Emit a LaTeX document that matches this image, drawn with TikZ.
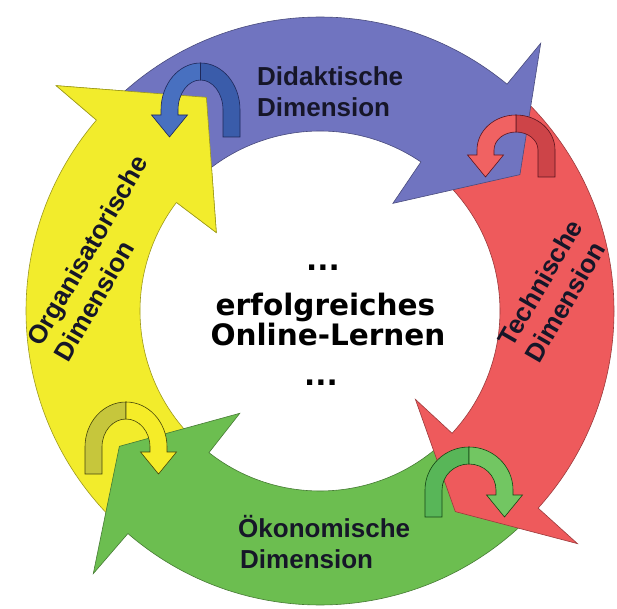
\documentclass[tikz,border=0pt]{standalone}
\usepackage{fontspec}
\newfontfamily\lblfont{Liberation Sans}
\newfontfamily\ctrfont{DejaVu Sans}
\definecolor{ringblue}{RGB}{112,116,192}
\definecolor{ringred}{RGB}{238,90,92}
\definecolor{ringgreen}{RGB}{108,190,80}
\definecolor{ringyellow}{RGB}{242,236,44}
\definecolor{ubd}{RGB}{58,92,170}\definecolor{ubl}{RGB}{72,112,192}\definecolor{ubo}{RGB}{30,40,90}
\definecolor{urd}{RGB}{205,68,72}\definecolor{url}{RGB}{240,98,98}\definecolor{uro}{RGB}{90,20,30}
\definecolor{ugd}{RGB}{88,182,88}\definecolor{ugl}{RGB}{114,198,98}\definecolor{ugo}{RGB}{20,70,20}
\definecolor{uyd}{RGB}{198,198,60}\definecolor{uyl}{RGB}{245,236,40}\definecolor{uyo}{RGB}{70,70,10}
\definecolor{lbltext}{RGB}{22,22,40}
% #1 tail angle, #2 outer barb angle, #3 inner barb angle, #4 tip angle, #5 colour
\newcommand\ringarrow[5]{%
  \filldraw[fill=#5, draw=#5!65!black, line width=0.6pt]
    (#1:294) arc[start angle=#1, end angle=#2, radius=294] -- (#2:347) -- (#4:242)
    -- (#3:130) -- (#3:180) arc[start angle=#3, end angle=#1, radius=180] -- cycle;}
\newcommand\myuturn[8]{%
  \begin{scope}[shift={(#1,{608-#2})}, xscale=#5]
    \filldraw[fill=#6, draw=#8, line width=0.6pt] (#3,-27) -- (#3,0)
      arc[start angle=0, end angle=90, x radius=#3, y radius=#4] -- (0,{#4-17})
      arc[start angle=90, end angle=0, x radius={#3-17}, y radius={#4-17}] -- ({#3-17},-27) -- cycle;
    \filldraw[fill=#7, draw=#8, line width=0.6pt] (0,#4)
      arc[start angle=90, end angle=180, x radius=#3, y radius=#4] -- ({-#3},-5) -- ({-#3-9.5},-5)
      -- ({-#3+8.5},-27) -- ({-#3+26.5},-5) -- ({-#3+17},-5) -- ({-#3+17},0)
      arc[start angle=180, end angle=90, x radius={#3-17}, y radius={#4-17}] -- cycle;
  \end{scope}}
\tikzset{
  lbl/.style={font=\lblfont\bfseries\fontsize{26}{31}\selectfont, text=lbltext, inner sep=0pt, anchor=base west},
  rlbl/.style={font=\lblfont\bfseries\fontsize{26}{31}\selectfont, text=lbltext, inner sep=0pt,
    align=left, rotate=60, anchor=west},
  ctr/.style={font=\ctrfont\bfseries\fontsize{29.5}{34}\selectfont, text=black, inner sep=0pt, anchor=base}
}
\begin{document}
\begin{tikzpicture}[x=1pt,y=1pt]
\useasboundingbox (0,0) rectangle (617,608);
\fill[white] (0,0) rectangle (617,608);
\begin{scope}[shift={(320,297)}]
  \ringarrow{227.2}{139.5}{142.9}{118}{ringyellow}
  \ringarrow{-44.8}{-130.8}{-128.1}{-146}{ringgreen}
  \ringarrow{48.5}{-42.1}{-42.8}{-56}{ringred}
  \ringarrow{137.5}{50.5}{55.9}{34.3}{ringblue}
  % yellow head on top of blue tail
  \fill[ringyellow] (139.5:347) -- (118:242) -- (142.9:130) -- (142.9:180) -- (139.5:294) -- cycle;
  \draw[ringyellow!65!black, line width=0.6pt] (139.5:294) -- (139.5:347) -- (118:242) -- (142.9:130) -- (142.9:180);
\end{scope}
\myuturn{200.5}{110}{39.5}{47}{1}{ubd}{ubl}{ubo}
\myuturn{516}{150}{39}{35}{1}{urd}{url}{uro}
\myuturn{469}{490}{44}{43}{-1}{ugd}{ugl}{ugo}
\myuturn{126}{447}{41}{45}{-1}{uyd}{uyl}{uyo}
% labels
\node[lbl] (did1) at (257,522) {Didaktische};
\node[lbl] (did2) at (257,491) {Dimension};
\node[lbl] (oek1) at (238,71) {Ökonomische};
\node[lbl] (oek2) at (240,40) {Dimension};
\node[rlbl] (org) at (47,257.1) {Organisatorische\\Dimension};
\node[rlbl] (tec) at (518,256) {Technische\\Dimension};
% centre
\node[ctr] (c1) at (323,337) {...};
\node[ctr] (c2) at (325.5,293) {erfolgreiches};
\node[ctr] (c3) at (328,262.5) {Online-Lernen};
\node[ctr] (c4) at (321,223) {...};
\end{tikzpicture}
\end{document}
